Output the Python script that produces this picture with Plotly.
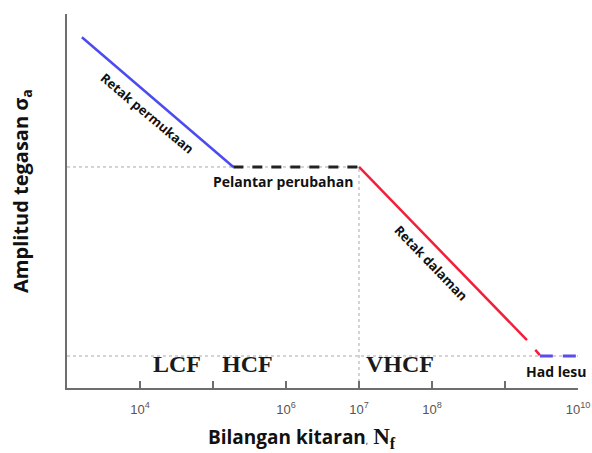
import plotly.graph_objects as go

# Data (cycles, stress amplitude in arbitrary units 0..1)
surface_N = [1.6e3, 1.9e5]
surface_S = [0.938, 0.591]
plateau_N = [1.9e5, 1e7]
plateau_S = [0.591, 0.591]
internal_N = [1e7, 2.0e9]
internal_S = [0.591, 0.128]
internal_tail_N = [2.6e9, 3.0e9]
internal_tail_S = [0.102, 0.088]
limit_N = [3.0e9, 1.05e10]
limit_S = [0.0856, 0.0856]

tick_vals = [1e4, 1e5, 1e6, 1e7, 1e8, 1e9, 1e10]
tick_text = ["10<sup>4</sup>", "", "10<sup>6</sup>", "10<sup>7</sup>", "10<sup>8</sup>", "", "10<sup>10</sup>"]

grey = "#a9a9a9"
fig = go.Figure()
# reference dotted lines
fig.add_trace(go.Scatter(x=[1e3, 1e7], y=[0.591, 0.591], mode="lines",
                         line=dict(color=grey, width=1, dash="dot"), hoverinfo="skip"))
fig.add_trace(go.Scatter(x=[1e7, 1e7], y=[0, 0.591], mode="lines",
                         line=dict(color=grey, width=1, dash="dot"), hoverinfo="skip"))
fig.add_trace(go.Scatter(x=[1e3, 1e10], y=[0.0856, 0.0856], mode="lines",
                         line=dict(color=grey, width=1, dash="dot"), hoverinfo="skip"))
# curves
fig.add_trace(go.Scatter(x=surface_N, y=surface_S, mode="lines",
                         line=dict(color="#4b4bf0", width=2.5)))
fig.add_trace(go.Scatter(x=plateau_N, y=plateau_S, mode="lines",
                         line=dict(color="#222222", width=3, dash="10px,9px")))
fig.add_trace(go.Scatter(x=internal_N, y=internal_S, mode="lines",
                         line=dict(color="#f0203c", width=2.5)))
fig.add_trace(go.Scatter(x=internal_tail_N, y=internal_tail_S, mode="lines",
                         line=dict(color="#f0203c", width=2.5)))
fig.add_trace(go.Scatter(x=limit_N, y=limit_S, mode="lines", cliponaxis=False,
                         line=dict(color="#5a4cf0", width=3, dash="13px,10px")))

sans = "Open Sans"
ann = []
ann.append(dict(x=4.096, y=0.735, xref="x", yref="y", text="<b>Retak permukaan</b>", showarrow=False,
                textangle=40, font=dict(family=sans, size=13, color="#111")))
ann.append(dict(x=5.96, y=0.551, xref="x", yref="y", text="<b>Pelantar perubahan</b>", showarrow=False,
                font=dict(family=sans, size=14, color="#111")))
ann.append(dict(x=7.99, y=0.334, xref="x", yref="y", text="<b>Retak dalaman</b>", showarrow=False,
                textangle=46, font=dict(family=sans, size=13, color="#111")))
ann.append(dict(x=9.70, y=0.043, xref="x", yref="y", text="<b>Had lesu</b>", showarrow=False,
                font=dict(family=sans, size=14, color="#111")))
for label, xv in [("LCF", 4.51), ("HCF", 5.47), ("VHCF", 7.56)]:
    ann.append(dict(x=xv, y=0.064, xref="x", yref="y", text="<b>" + label + "</b>", showarrow=False,
                    font=dict(family="Liberation Serif", size=24, color="#1a1a1a")))
# axis titles
ann.append(dict(x=0.46, y=-0.134, xref="paper", yref="paper", showarrow=False,
                xanchor="center", yanchor="middle",
                text="<b>Bilangan kitaran</b><span style='font-size:9px'>,</span> <span style='font-family:Liberation Serif;font-size:23px'><b>N<sub>f</sub></b></span>",
                font=dict(family=sans, size=19, color="#111")))
ann.append(dict(x=-0.088, y=0.527, xref="paper", yref="paper", showarrow=False, textangle=-90,
                xanchor="center", yanchor="middle",
                text="<b>Amplitud tegasan σ<sub>a</sub></b>",
                font=dict(family=sans, size=20, color="#111")))

fig.update_layout(
    width=592, height=453,
    margin=dict(l=67, r=14, t=14, b=65),
    paper_bgcolor="white", plot_bgcolor="white",
    showlegend=False,
    annotations=ann,
    xaxis=dict(type="log", range=[3, 10], showgrid=False, zeroline=False, automargin=False,
               showline=True, linecolor="#6e6e6e", linewidth=2,
               tickmode="array", tickvals=tick_vals, ticktext=tick_text,
               ticks="inside", ticklen=7, tickwidth=1.5, tickcolor="#6e6e6e",
               ticklabelstandoff=8,
               tickfont=dict(family="Liberation Sans", size=13, color="#555")),
    yaxis=dict(range=[0, 1], showgrid=False, zeroline=False, showticklabels=False, automargin=False,
               showline=True, linecolor="#6e6e6e", linewidth=2, ticks=""),
)
fig.write_html("out.html")
